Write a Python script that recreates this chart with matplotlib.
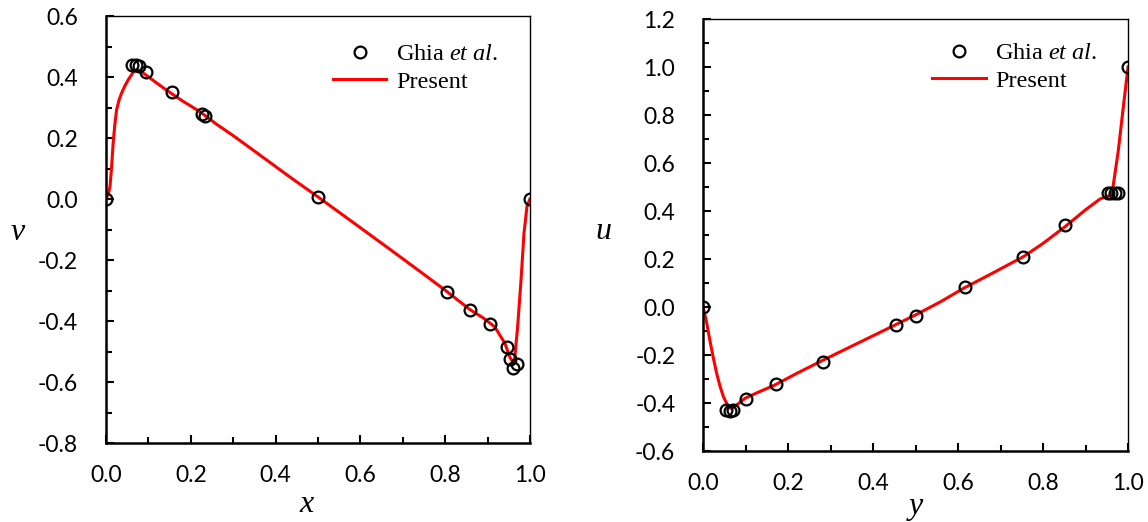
import numpy as np
import matplotlib
matplotlib.use("Agg")
import matplotlib.pyplot as plt
from matplotlib.ticker import MultipleLocator, FormatStrFormatter

plt.rcParams['mathtext.fontset'] = 'custom'
plt.rcParams['mathtext.rm'] = 'Liberation Serif'
plt.rcParams['mathtext.it'] = 'Liberation Serif:italic'

# Ghia et al. reference data, horizontal centreline (v vs x)
ghia_x = [0.0, 0.0625, 0.0703, 0.0781, 0.0938, 0.1563, 0.2266, 0.2344, 0.5,
          0.8047, 0.8594, 0.9063, 0.9453, 0.9531, 0.9609, 0.9688, 1.0]
ghia_v = [0.0, 0.44, 0.44, 0.436, 0.418, 0.35, 0.279, 0.272, 0.008,
          -0.305, -0.364, -0.41, -0.486, -0.525, -0.553, -0.541, 0.0]

# present solution, horizontal centreline
pres_x = [0.0, 0.005, 0.0095, 0.013, 0.017, 0.021, 0.025, 0.031, 0.037, 0.045,
          0.053, 0.065, 0.072, 0.08, 0.094, 0.12, 0.143, 0.18, 0.222, 0.26,
          0.301, 0.38, 0.434, 0.501, 0.591, 0.67, 0.748, 0.803, 0.858, 0.89,
          0.917, 0.941, 0.953, 0.963, 0.971, 0.979, 0.986, 0.993, 1.0]
pres_v = [0.0, 0.015, 0.04, 0.10, 0.184, 0.245, 0.292, 0.325, 0.348, 0.372,
          0.392, 0.417, 0.423, 0.42, 0.407, 0.38, 0.357, 0.322, 0.286, 0.246,
          0.207, 0.127, 0.072, 0.006, -0.085, -0.165, -0.245, -0.302, -0.362, -0.39,
          -0.419, -0.473, -0.52, -0.54, -0.419, -0.266, -0.112, -0.025, 0.0]

# Ghia et al. reference data, vertical centreline (u vs y)
ghia_y = [0.0, 0.0547, 0.0625, 0.0703, 0.1016, 0.1719, 0.2813, 0.4531, 0.5,
          0.6172, 0.754, 0.8516, 0.9531, 0.9609, 0.9688, 0.9766, 1.0]
ghia_u = [0.0, -0.43, -0.432, -0.43, -0.382, -0.322, -0.231, -0.075, -0.036,
          0.082, 0.207, 0.342, 0.474, 0.474, 0.474, 0.474, 1.0]

# present solution, vertical centreline
pres_y = [0.0, 0.008, 0.016, 0.024, 0.032, 0.04, 0.048, 0.056, 0.064, 0.072,
          0.085, 0.099, 0.13, 0.169, 0.22, 0.283, 0.35, 0.416, 0.5, 0.56,
          0.613, 0.68, 0.754, 0.80, 0.852, 0.90, 0.934, 0.962, 0.977, 0.99, 1.0]
pres_u = [0.0, -0.06, -0.138, -0.21, -0.276, -0.33, -0.374, -0.403, -0.422, -0.418,
          -0.40, -0.38, -0.355, -0.325, -0.277, -0.221, -0.163, -0.106, -0.033, 0.023,
          0.078, 0.14, 0.21, 0.265, 0.335, 0.405, 0.45, 0.468, 0.65, 0.85, 1.0]

tick_font = 'Lato'


def style_axes(ax, ylim, ystep):
    ax.set_xlim(0, 1)
    ax.set_ylim(*ylim)
    ax.xaxis.set_major_locator(MultipleLocator(0.2))
    ax.xaxis.set_minor_locator(MultipleLocator(0.1))
    ax.yaxis.set_major_locator(MultipleLocator(ystep))
    ax.yaxis.set_minor_locator(MultipleLocator(ystep / 2))
    ax.xaxis.set_major_formatter(FormatStrFormatter('%.1f'))
    ax.yaxis.set_major_formatter(FormatStrFormatter('%.1f'))
    for s in ['left', 'bottom']:
        ax.spines[s].set_linewidth(1.8)
    for s in ['top', 'right']:
        ax.spines[s].set_linewidth(1.0)
    ax.tick_params(which='both', direction='in', top=False, right=False, width=1.5)
    ax.tick_params(which='major', length=5.5)
    ax.tick_params(which='minor', length=4)
    ax.tick_params(axis='y', which='major', pad=20)
    ax.tick_params(axis='x', which='major', pad=16)
    for lab in ax.get_xticklabels() + ax.get_yticklabels():
        lab.set_fontfamily(tick_font)
        lab.set_fontsize(16.5)


fig = plt.figure(figsize=(11.48, 5.22), dpi=100)
ax1 = fig.add_axes([0.0923, 0.1513, 0.3693, 0.818])
ax2 = fig.add_axes([0.6124, 0.136, 0.3702, 0.8276])

mk = dict(marker='o', ls='none', mfc='none', mec='black', ms=8.5, mew=1.6, zorder=3)

ax1.plot(ghia_x, ghia_v, label='Ghia $\\it{et\\ al}$.', **mk)
ax1.plot(pres_x, pres_v, color='red', lw=2.2, label='Present', zorder=2)
style_axes(ax1, (-0.8, 0.6), 0.2)

ax2.plot(ghia_y, ghia_u, label='Ghia $\\it{et\\ al}$.', **mk)
ax2.plot(pres_y, pres_u, color='red', lw=2.2, label='Present', zorder=2)
style_axes(ax2, (-0.6, 1.2), 0.2)

lab_kw = dict(fontfamily='Liberation Serif', fontstyle='italic', fontsize=23)
ax1.set_ylabel('v', rotation=0, va='center', ha='center', **lab_kw)
ax1.yaxis.set_label_coords(-0.2075, 0.494)
ax1.set_xlabel('x', va='center', ha='center', **lab_kw)
ax1.xaxis.set_label_coords(0.474, -0.145)
ax2.set_ylabel('u', rotation=0, va='center', ha='center', **lab_kw)
ax2.yaxis.set_label_coords(-0.235, 0.507)
ax2.set_xlabel('y', va='center', ha='center', **lab_kw)
ax2.xaxis.set_label_coords(0.50, -0.128)

leg_kw = dict(loc='upper left', frameon=False, borderpad=0, borderaxespad=0,
              handlelength=2.2, handletextpad=0.4, labelspacing=0.22,
              prop={'family': 'Liberation Serif', 'size': 17.5})
ax1.legend(bbox_to_anchor=(0.535, 0.936), **leg_kw)
ax2.legend(bbox_to_anchor=(0.539, 0.946), **leg_kw)

fig.savefig('out.png', dpi=100)
